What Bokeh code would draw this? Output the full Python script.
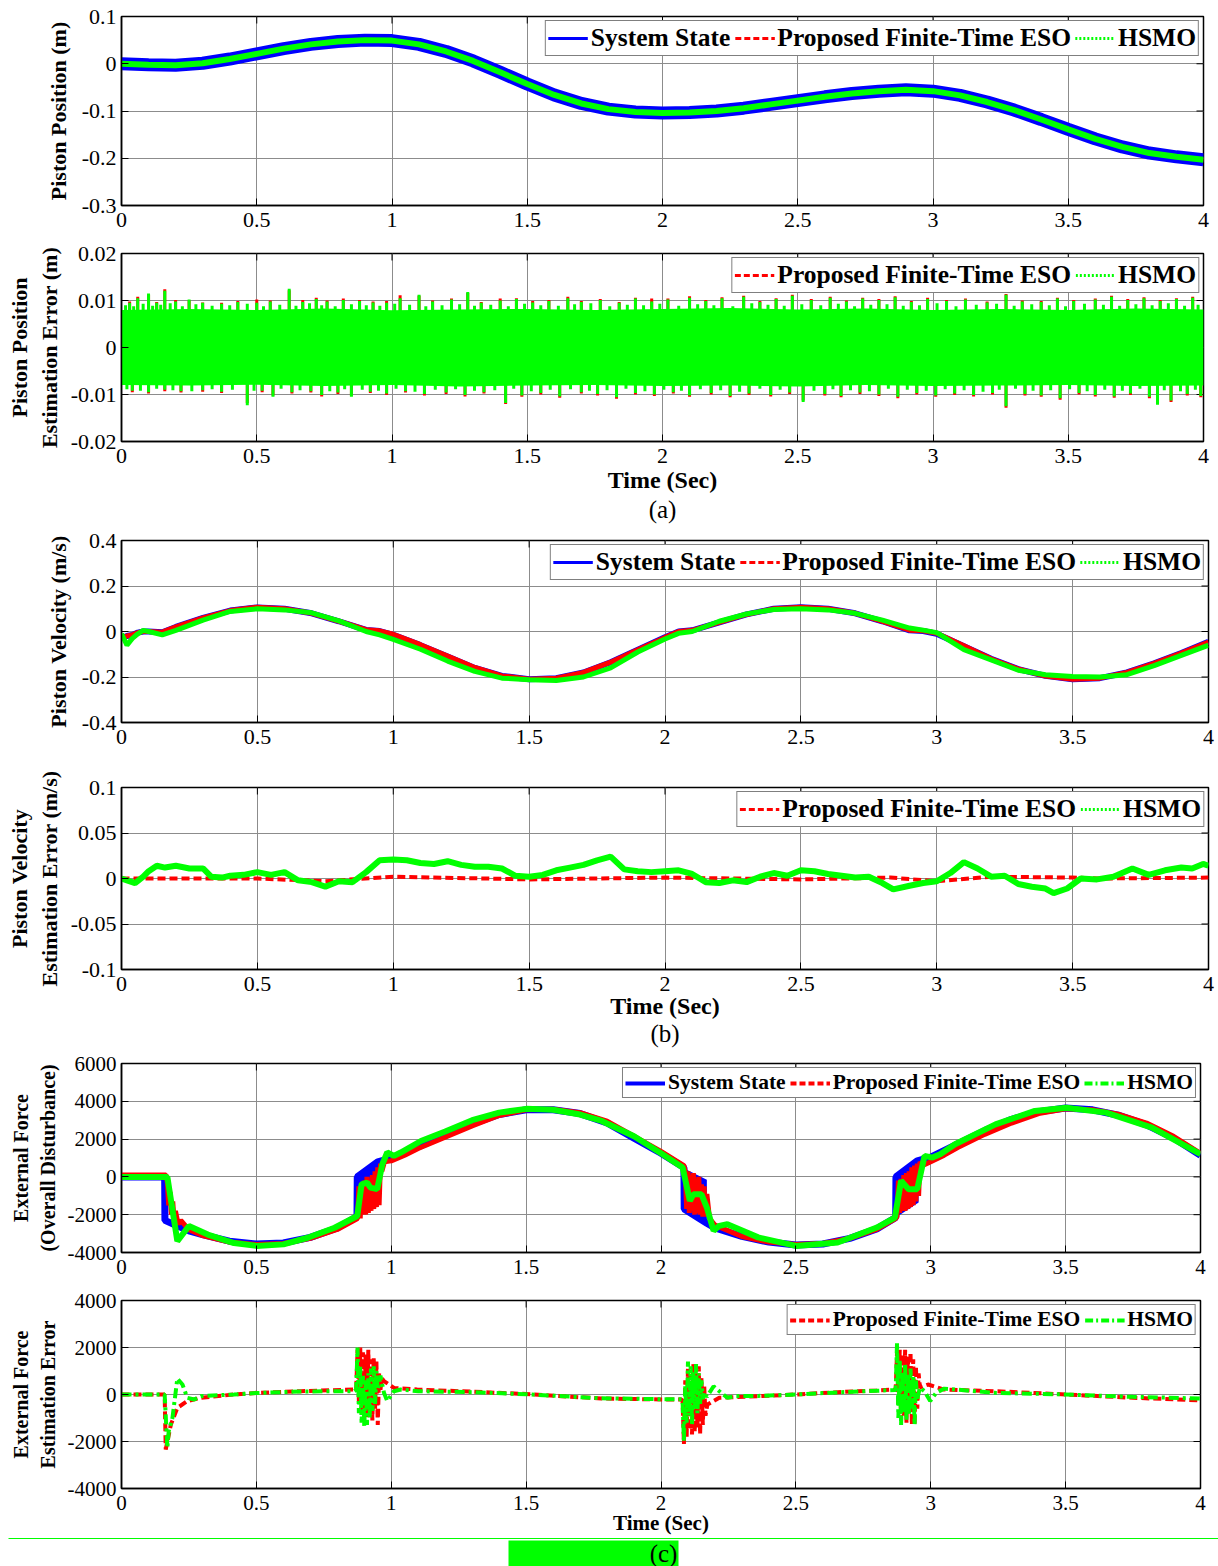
import math
from bokeh.plotting import figure
from bokeh.models import FixedTicker, Legend, LegendItem, Title, Range1d
from bokeh.embed import file_html
from bokeh.resources import INLINE
from bokeh.core.properties import value

FONT = "Liberation Serif"
BLUE, RED, GREEN = "#0000ff", "#ff0000", "#00ff00"

# ---------------- data ----------------
XTICKS = [0, 0.5, 1, 1.5, 2, 2.5, 3, 3.5, 4]
XLABELS = ["0", "0.5", "1", "1.5", "2", "2.5", "3", "3.5", "4"]

# (a) piston position
pos_t = [0, 0.1, 0.2, 0.3, 0.4, 0.5, 0.6, 0.7, 0.8, 0.9, 1.0, 1.1, 1.2, 1.3, 1.4, 1.5, 1.6, 1.7, 1.8, 1.9, 2.0,
         2.1, 2.2, 2.3, 2.4, 2.5, 2.6, 2.7, 2.8, 2.9, 3.0, 3.1, 3.2, 3.3, 3.4, 3.5, 3.6, 3.7, 3.8, 3.9, 4.0]
pos_state = [0.000, -0.002, -0.003, 0.001, 0.010, 0.021, 0.032, 0.041, 0.047, 0.050, 0.049, 0.041, 0.026, 0.006,
             -0.018, -0.043, -0.066, -0.084, -0.096, -0.102, -0.104, -0.103, -0.100, -0.094, -0.086, -0.078,
             -0.070, -0.063, -0.058, -0.055, -0.058, -0.067, -0.081, -0.098, -0.118, -0.139, -0.159, -0.176,
             -0.189, -0.197, -0.203]
pos_eso = [0.000, -0.002, -0.003, 0.001, 0.010, 0.021, 0.032, 0.041, 0.047, 0.050, 0.049, 0.041, 0.026, 0.006,
           -0.018, -0.043, -0.066, -0.084, -0.096, -0.102, -0.104, -0.103, -0.100, -0.094, -0.086, -0.078,
           -0.070, -0.063, -0.058, -0.055, -0.058, -0.067, -0.081, -0.098, -0.118, -0.139, -0.159, -0.176,
           -0.189, -0.197, -0.203]
pos_hsmo = [0.000, -0.002, -0.003, 0.001, 0.010, 0.021, 0.032, 0.041, 0.047, 0.050, 0.049, 0.041, 0.026, 0.006,
            -0.018, -0.043, -0.066, -0.084, -0.096, -0.102, -0.104, -0.103, -0.100, -0.094, -0.086, -0.078,
            -0.070, -0.063, -0.058, -0.055, -0.058, -0.067, -0.081, -0.098, -0.118, -0.139, -0.159, -0.176,
            -0.189, -0.197, -0.203]

# position estimation error: dense band envelope + peaks
perr_env_t = [0, 0.25, 0.5, 0.75, 1.0, 1.25, 1.5, 1.75, 2.0, 2.25, 2.5, 2.75, 3.0, 3.25, 3.5, 3.75, 4.0]
perr_env_hi = [0.0080, 0.0082, 0.0080, 0.0083, 0.0079, 0.0081, 0.0082, 0.0080, 0.0082, 0.0084, 0.0081, 0.0083,
               0.0080, 0.0082, 0.0080, 0.0083, 0.0081]
perr_env_lo = [-0.0080, -0.0081, -0.0079, -0.0082, -0.0080, -0.0083, -0.0081, -0.0080, -0.0082, -0.0081,
               -0.0083, -0.0080, -0.0082, -0.0081, -0.0080, -0.0082, -0.0081]
perr_up_t = [0.03, 0.06, 0.10, 0.13, 0.16, 0.20, 0.25, 0.30, 0.37, 0.43, 0.50, 0.55, 0.62, 0.67, 0.72, 0.76, 0.82,
             0.88, 0.93, 0.98, 1.03, 1.10, 1.15, 1.22, 1.28, 1.33, 1.40, 1.46, 1.52, 1.58, 1.65, 1.70, 1.77, 1.84,
             1.90, 1.96, 2.02, 2.10, 2.16, 2.22, 2.30, 2.36, 2.42, 2.48, 2.55, 2.62, 2.68, 2.74, 2.80, 2.86, 2.92,
             2.98, 3.05, 3.12, 3.20, 3.27, 3.33, 3.40, 3.46, 3.52, 3.60, 3.66, 3.72, 3.78, 3.84, 3.90, 3.96]
perr_up_eso = [0.0098, 0.0108, 0.0113, 0.0097, 0.0124, 0.0101, 0.0100, 0.0096, 0.0095, 0.0099, 0.0102, 0.0100,
               0.0122, 0.0101, 0.0106, 0.0100, 0.0104, 0.0101, 0.0098, 0.0099, 0.0111, 0.0110, 0.0100, 0.0104,
               0.0116, 0.0097, 0.0104, 0.0105, 0.0099, 0.0101, 0.0108, 0.0099, 0.0103, 0.0097, 0.0106, 0.0104,
               0.0104, 0.0109, 0.0101, 0.0107, 0.0110, 0.0099, 0.0105, 0.0112, 0.0103, 0.0108, 0.0100, 0.0106,
               0.0103, 0.0109, 0.0099, 0.0106, 0.0101, 0.0104, 0.0098, 0.0114, 0.0100, 0.0099, 0.0106, 0.0101,
               0.0104, 0.0110, 0.0103, 0.0107, 0.0101, 0.0105, 0.0108]
perr_up_hsmo = [0.0095, 0.0105, 0.0115, 0.0095, 0.0121, 0.0098, 0.0102, 0.0095, 0.0093, 0.0097, 0.0095, 0.0098,
                0.0125, 0.0097, 0.0103, 0.0098, 0.0101, 0.0099, 0.0096, 0.0095, 0.0105, 0.0112, 0.0098, 0.0102,
                0.0118, 0.0095, 0.0100, 0.0103, 0.0096, 0.0099, 0.0105, 0.0097, 0.0101, 0.0095, 0.0104, 0.0098,
                0.0102, 0.0106, 0.0099, 0.0105, 0.0108, 0.0097, 0.0103, 0.0110, 0.0101, 0.0106, 0.0098, 0.0104,
                0.0101, 0.0107, 0.0097, 0.0103, 0.0099, 0.0102, 0.0096, 0.0112, 0.0098, 0.0097, 0.0104, 0.0099,
                0.0102, 0.0108, 0.0101, 0.0105, 0.0099, 0.0103, 0.0106]
perr_dn_t = [0.04, 0.10, 0.16, 0.22, 0.30, 0.37, 0.465, 0.52, 0.56, 0.63, 0.70, 0.74, 0.80, 0.85, 0.92, 0.98, 1.05,
             1.12, 1.20, 1.27, 1.34, 1.42, 1.48, 1.55, 1.62, 1.70, 1.76, 1.83, 1.90, 1.97, 2.04, 2.10, 2.18, 2.25,
             2.32, 2.40, 2.47, 2.52, 2.60, 2.66, 2.73, 2.80, 2.87, 2.94, 3.01, 3.08, 3.15, 3.22, 3.27, 3.34, 3.40,
             3.47, 3.54, 3.60, 3.67, 3.73, 3.80, 3.83, 3.88, 3.94, 3.99]
perr_dn_eso = [-0.0095, -0.0098, -0.0093, -0.0096, -0.0094, -0.0097, -0.0118, -0.0095, -0.0102, -0.0098, -0.0096,
               -0.0104, -0.0099, -0.0102, -0.0097, -0.0101, -0.0096, -0.0102, -0.0099, -0.0104, -0.0098, -0.0120,
               -0.0105, -0.0100, -0.0107, -0.0098, -0.0102, -0.0109, -0.0100, -0.0103, -0.0098, -0.0105, -0.0100,
               -0.0106, -0.0101, -0.0104, -0.0099, -0.0113, -0.0102, -0.0106, -0.0099, -0.0103, -0.0108, -0.0100,
               -0.0105, -0.0101, -0.0104, -0.0100, -0.0128, -0.0102, -0.0105, -0.0111, -0.0100, -0.0104, -0.0107,
               -0.0101, -0.0108, -0.0119, -0.0116, -0.0102, -0.0106]
perr_dn_hsmo = [-0.0092, -0.0095, -0.0090, -0.0093, -0.0091, -0.0094, -0.0123, -0.0092, -0.0105, -0.0095, -0.0093,
                -0.0101, -0.0096, -0.0105, -0.0094, -0.0098, -0.0093, -0.0099, -0.0096, -0.0101, -0.0095, -0.0118,
                -0.0102, -0.0097, -0.0104, -0.0095, -0.0099, -0.0106, -0.0097, -0.0100, -0.0095, -0.0102, -0.0097,
                -0.0103, -0.0098, -0.0101, -0.0096, -0.0116, -0.0099, -0.0103, -0.0096, -0.0100, -0.0105, -0.0097,
                -0.0102, -0.0098, -0.0101, -0.0097, -0.0125, -0.0099, -0.0102, -0.0108, -0.0097, -0.0101, -0.0104,
                -0.0098, -0.0105, -0.0122, -0.0113, -0.0099, -0.0103]
# smaller peaks in between (ragged band edge)
perr_up2_t = [0.015, 0.045, 0.08, 0.115, 0.145, 0.18, 0.225, 0.275, 0.335, 0.4, 0.465, 0.525, 0.585, 0.645, 0.695,
              0.74, 0.79, 0.85, 0.905, 0.955, 1.01, 1.065, 1.125, 1.185, 1.25, 1.305, 1.365, 1.43, 1.49, 1.55,
              1.615, 1.675, 1.735, 1.805, 1.87, 1.93, 1.99, 2.06, 2.13, 2.19, 2.26, 2.33, 2.39, 2.45, 2.515, 2.585,
              2.65, 2.71, 2.77, 2.83, 2.89, 2.95, 3.015, 3.085, 3.16, 3.235, 3.3, 3.365, 3.43, 3.49, 3.56, 3.63,
              3.69, 3.75, 3.81, 3.87, 3.93, 3.98]
perr_up2 = [0.0090, 0.0088, 0.0093, 0.0089, 0.0091, 0.0094, 0.0088, 0.0092, 0.0089, 0.0090, 0.0093, 0.0088,
            0.0091, 0.0089, 0.0094, 0.0090, 0.0088, 0.0092, 0.0090, 0.0089, 0.0093, 0.0091, 0.0088, 0.0090,
            0.0092, 0.0089, 0.0091, 0.0088, 0.0093, 0.0090, 0.0089, 0.0092, 0.0094, 0.0088, 0.0091, 0.0090,
            0.0093, 0.0089, 0.0092, 0.0090, 0.0088, 0.0094, 0.0091, 0.0089, 0.0092, 0.0090, 0.0093, 0.0088,
            0.0091, 0.0092, 0.0089, 0.0090, 0.0094, 0.0088, 0.0091, 0.0093, 0.0089, 0.0092, 0.0090, 0.0088,
            0.0093, 0.0091, 0.0089, 0.0092, 0.0090, 0.0094, 0.0089, 0.0091]
perr_dn2_t = [0.02, 0.07, 0.13, 0.19, 0.26, 0.335, 0.41, 0.49, 0.59, 0.66, 0.77, 0.825, 0.89, 0.95, 1.015, 1.085,
              1.16, 1.235, 1.305, 1.38, 1.45, 1.515, 1.585, 1.66, 1.73, 1.795, 1.865, 1.935, 2.005, 2.07, 2.14,
              2.215, 2.285, 2.36, 2.435, 2.56, 2.63, 2.695, 2.765, 2.835, 2.905, 2.975, 3.045, 3.115, 3.185, 3.245,
              3.305, 3.37, 3.435, 3.505, 3.57, 3.635, 3.7, 3.765, 3.855, 3.915, 3.97]
perr_dn2 = [-0.0089, -0.0092, -0.0088, -0.0091, -0.0093, -0.0089, -0.0090, -0.0092, -0.0088, -0.0091, -0.0093,
            -0.0089, -0.0090, -0.0092, -0.0088, -0.0094, -0.0090, -0.0089, -0.0092, -0.0091, -0.0088, -0.0093,
            -0.0090, -0.0089, -0.0092, -0.0091, -0.0088, -0.0093, -0.0090, -0.0092, -0.0089, -0.0091, -0.0094,
            -0.0088, -0.0090, -0.0092, -0.0089, -0.0091, -0.0093, -0.0088, -0.0090, -0.0092, -0.0089, -0.0091,
            -0.0094, -0.0090, -0.0088, -0.0092, -0.0091, -0.0089, -0.0093, -0.0090, -0.0092, -0.0088, -0.0091,
            -0.0093, -0.0090]

# (b) piston velocity
vel_t = [0, 0.02, 0.04, 0.06, 0.08, 0.1, 0.15, 0.2, 0.3, 0.4, 0.5, 0.6, 0.7, 0.8, 0.9, 0.95, 1.0, 1.1, 1.2, 1.3,
         1.4, 1.5, 1.6, 1.7, 1.8, 1.9, 2.0, 2.05, 2.1, 2.2, 2.3, 2.4, 2.5, 2.6, 2.7, 2.8, 2.9, 2.95, 3.0, 3.1,
         3.2, 3.3, 3.4, 3.5, 3.6, 3.7, 3.8, 3.9, 4.0]
vel_state = [-0.03, -0.02, -0.015, -0.005, 0.0, 0.0, -0.003, 0.02, 0.06, 0.092, 0.106, 0.1, 0.08, 0.045, 0.007,
             0.002, -0.015, -0.06, -0.11, -0.16, -0.195, -0.21, -0.205, -0.18, -0.135, -0.08, -0.025, 0.0, 0.005,
             0.04, 0.075, 0.1, 0.107, 0.1, 0.08, 0.045, 0.005, 0.002, -0.01, -0.065, -0.12, -0.165, -0.195, -0.21,
             -0.205, -0.18, -0.14, -0.095, -0.045]
vel_eso = [-0.03, -0.02, -0.015, -0.005, 0.0, 0.0, -0.003, 0.02, 0.06, 0.092, 0.107, 0.1, 0.08, 0.045, 0.008,
           0.003, -0.012, -0.058, -0.108, -0.158, -0.195, -0.21, -0.205, -0.18, -0.135, -0.08, -0.026, 0.0, 0.005,
           0.04, 0.075, 0.1, 0.107, 0.1, 0.08, 0.045, 0.006, 0.003, -0.008, -0.063, -0.12, -0.165, -0.196, -0.21,
           -0.205, -0.18, -0.14, -0.095, -0.046]
vel_hsmo = [-0.01, -0.06, -0.03, -0.01, 0.005, 0.0, -0.015, 0.005, 0.05, 0.088, 0.1, 0.095, 0.082, 0.047, 0.0,
            -0.015, -0.035, -0.078, -0.13, -0.175, -0.205, -0.212, -0.215, -0.2, -0.16, -0.09, -0.033, -0.008,
            0.0, 0.045, 0.077, 0.097, 0.1, 0.095, 0.08, 0.05, 0.015, 0.006, -0.005, -0.08, -0.125, -0.17, -0.19,
            -0.198, -0.2, -0.19, -0.15, -0.105, -0.06]

verr_eso_t = [0, 0.5, 0.75, 1.0, 1.5, 2.0, 2.5, 2.83, 3.0, 3.2, 3.5, 3.6, 4.0]
verr_eso = [0.0, 0.0, -0.003, 0.002, -0.001, 0.001, -0.001, 0.001, -0.003, 0.002, 0.001, 0.0, 0.001]
verr_hsmo_t = [0, 0.02, 0.05, 0.08, 0.1, 0.13, 0.16, 0.2, 0.25, 0.3, 0.33, 0.37, 0.4, 0.45, 0.5, 0.55, 0.6, 0.65,
               0.7, 0.75, 0.8, 0.85, 0.9, 0.95, 1.0, 1.05, 1.1, 1.15, 1.2, 1.25, 1.3, 1.35, 1.4, 1.45, 1.5, 1.55,
               1.6, 1.65, 1.7, 1.75, 1.8, 1.85, 1.9, 1.95, 2.0, 2.05, 2.1, 2.15, 2.2, 2.25, 2.3, 2.35, 2.4, 2.45,
               2.5, 2.55, 2.6, 2.65, 2.7, 2.75, 2.8, 2.84, 2.9, 2.95, 3.0, 3.05, 3.1, 3.15, 3.2, 3.25, 3.3, 3.35,
               3.4, 3.43, 3.48, 3.53, 3.59, 3.65, 3.72, 3.78, 3.84, 3.9, 3.94, 3.98, 4.0]
verr_hsmo = [0.0, -0.002, -0.005, 0.002, 0.008, 0.014, 0.012, 0.014, 0.011, 0.011, 0.002, 0.001, 0.003, 0.004,
             0.007, 0.004, 0.007, -0.002, -0.004, -0.009, -0.003, -0.004, 0.007, 0.020, 0.021, 0.020, 0.017,
             0.016, 0.019, 0.015, 0.013, 0.013, 0.011, 0.003, 0.002, 0.004, 0.009, 0.012, 0.015, 0.020, 0.024,
             0.010, 0.008, 0.007, 0.008, 0.009, 0.005, -0.004, -0.005, -0.002, -0.004, 0.002, 0.006, 0.003, 0.009,
             0.008, 0.005, 0.003, 0.001, 0.002, -0.005, -0.012, -0.008, -0.005, -0.003, 0.006, 0.018, 0.011,
             0.002, 0.003, -0.006, -0.009, -0.011, -0.016, -0.011, 0.0, -0.001, 0.002, 0.011, 0.004, 0.009, 0.012,
             0.011, 0.016, 0.014]

# (c) external force
f_state_t = [0, 0.16, 0.161, 0.2, 0.25, 0.3, 0.4, 0.5, 0.6, 0.7, 0.8, 0.873, 0.874, 0.95, 1.0, 1.1, 1.2, 1.3, 1.4,
             1.5, 1.6, 1.7, 1.8, 1.9, 2.0, 2.085, 2.086, 2.17, 2.2, 2.3, 2.4, 2.5, 2.6, 2.7, 2.8, 2.87, 2.871, 2.95,
             3.0, 3.1, 3.2, 3.3, 3.4, 3.5, 3.6, 3.7, 3.8, 3.9, 4.0]
f_state = [0, 0, -2300, -2550, -2850, -3050, -3400, -3550, -3500, -3200, -2700, -2100, 0, 800, 1000, 1600, 2200,
           2800, 3300, 3550, 3550, 3350, 2850, 2050, 1250, 500, -1700, -2450, -2700, -3150, -3450, -3600, -3550,
           -3250, -2750, -2150, 0, 850, 1050, 1750, 2450, 3050, 3450, 3650, 3550, 3250, 2750, 2050, 1150]
f_band_t1 = [0.873, 0.955]
f_band_lo1 = [-2100, -1450]
f_band_hi1 = [0, 800]
f_band_t2 = [2.086, 2.17]
f_band_lo2 = [-1700, -2450]
f_band_hi2 = [450, -150]
f_band_t3 = [2.871, 2.955]
f_band_lo3 = [-2150, -1350]
f_band_hi3 = [0, 850]

f_eso_t = [0, 0.165, 0.17, 0.175, 0.18, 0.185, 0.19, 0.195, 0.2, 0.21, 0.22, 0.25, 0.3, 0.4, 0.5, 0.6, 0.7, 0.8,
           0.875, 0.88, 0.885, 0.89, 0.895, 0.9, 0.905, 0.91, 0.915, 0.92, 0.925, 0.93, 0.935, 0.94, 0.945, 0.95,
           0.955, 0.96, 0.965, 0.975, 1.0, 1.05, 1.1, 1.2, 1.3, 1.4, 1.5, 1.6, 1.7, 1.8, 1.9, 2.0, 2.085, 2.09,
           2.095, 2.1, 2.105, 2.11, 2.115, 2.12, 2.125, 2.13, 2.135, 2.14, 2.145, 2.15, 2.155, 2.16, 2.165, 2.17,
           2.18, 2.2, 2.3, 2.4, 2.5, 2.6, 2.7, 2.8, 2.87, 2.875, 2.88, 2.885, 2.89, 2.895, 2.9, 2.905, 2.91,
           2.915, 2.92, 2.925, 2.93, 2.935, 2.94, 2.945, 2.95, 2.955, 2.96, 2.97, 3.0, 3.05, 3.1, 3.2, 3.3, 3.4,
           3.5, 3.6, 3.7, 3.8, 3.9, 4.0]
f_eso = [100, 100, -300, -1500, -800, -2000, -1300, -2300, -1800, -2500, -2300, -2800, -3100, -3450, -3580, -3520,
         -3250, -2780, -2200, -500, -2200, -300, -2000, -200, -2000, 0, -1900, -200, -1800, 100, -1700, 300, -1600,
         500, -1500, 700, 300, 800, 850, 1150, 1500, 2100, 2700, 3250, 3550, 3580, 3400, 2950, 2150, 1350, 600,
         300, -1700, 300, -1900, 100, -1800, 200, -2000, -100, -1900, 0, -2000, -400, -2100, -500, -2100, -900,
         -2200, -2550, -3150, -3450, -3580, -3520, -3250, -2780, -2200, -2100, -200, -1900, -100, -1800, 100,
         -1800, 200, -1700, 300, -1600, 500, -1500, 600, -1300, 700, -1000, 800, 600, 800, 1150, 1550, 2250,
         2850, 3350, 3600, 3550, 3300, 2850, 2150, 1250]
f_hsmo_t = [0, 0.17, 0.207, 0.25, 0.32, 0.417, 0.5, 0.6, 0.69, 0.79, 0.874, 0.89, 0.91, 0.923, 0.948, 0.967,
            0.985, 1.01, 1.035, 1.11, 1.2, 1.3, 1.4, 1.5, 1.6, 1.7, 1.78, 1.9, 2.0, 2.08, 2.107, 2.12, 2.15, 2.17,
            2.195, 2.216, 2.246, 2.36, 2.5, 2.655, 2.8, 2.867, 2.89, 2.918, 2.95, 2.977, 3.006, 3.035, 3.09,
            3.24, 3.386, 3.503, 3.65, 3.82, 4.0]
f_hsmo = [0, 0, -3400, -2600, -3050, -3500, -3650, -3570, -3220, -2690, -2070, -390, -300, -570, -650, 670, 1290,
          1110, 1290, 1900, 2400, 3000, 3400, 3600, 3550, 3300, 2960, 2150, 1250, 500, -1270, -920, -920, -1620,
          -2850, -2590, -2500, -3200, -3650, -3470, -2680, -2150, -210, -650, -650, 1110, 1020, 1200, 1730,
          2780, 3490, 3660, 3400, 2610, 1200]

ferr_eso_t = [0, 0.16, 0.164, 0.172, 0.183, 0.207, 0.244, 0.294, 0.417, 0.5, 0.664, 0.862, 0.87, 0.875, 0.88,
              0.885, 0.89, 0.895, 0.9, 0.905, 0.91, 0.915, 0.92, 0.925, 0.93, 0.935, 0.94, 0.945, 0.95, 0.955,
              0.96, 0.965, 0.973, 1.01, 1.096, 1.3, 1.5, 1.778, 2.0, 2.077, 2.08, 2.085, 2.09, 2.095, 2.1, 2.105,
              2.11, 2.115, 2.12, 2.125, 2.13, 2.135, 2.14, 2.145, 2.15, 2.155, 2.16, 2.165, 2.172, 2.216, 2.36,
              2.5, 2.655, 2.8, 2.867, 2.87, 2.875, 2.88, 2.885, 2.89, 2.895, 2.9, 2.905, 2.91, 2.915, 2.92, 2.925,
              2.93, 2.935, 2.94, 2.945, 2.95, 2.955, 2.96, 2.99, 3.05, 3.24, 3.5, 3.75, 4.0]
ferr_eso = [0, 0, -2340, -1900, -1280, -570, -280, -140, 0, 70, 140, 210, 200, 1900, -300, 2000, -700, 1800, -900,
            1700, -1000, 1900, -800, 1500, -1100, 1600, -600, 1400, -1300, 900, 200, 700, 570, 280, 210, 120, 20,
            -170, -210, -210, -300, -2100, 600, -1800, 1100, -1500, 800, -1700, 1300, -1600, 900, -1400, 1200,
            -1700, 700, -1300, 400, -900, -425, -140, -70, 0, 100, 170, 210, 200, 1800, -500, 1900, -1100, 1700,
            -900, 1900, -1200, 1600, -800, 1800, -1300, 1500, -1300, 1200, -600, 900, 300, 425, 210, 140, 0, -140,
            -250]
ferr_hsmo_t = [0, 0.16, 0.17, 0.175, 0.189, 0.207, 0.226, 0.244, 0.27, 0.294, 0.417, 0.5, 0.664, 0.862, 0.87,
               0.875, 0.88, 0.885, 0.89, 0.895, 0.9, 0.905, 0.91, 0.915, 0.92, 0.925, 0.93, 0.935, 0.94, 0.945,
               0.95, 0.96, 0.973, 0.985, 1.01, 1.035, 1.1, 1.3, 1.5, 1.778, 2.0, 2.077, 2.08, 2.085, 2.09, 2.095,
               2.1, 2.105, 2.11, 2.115, 2.12, 2.125, 2.13, 2.135, 2.14, 2.145, 2.15, 2.155, 2.16, 2.17, 2.195,
               2.216, 2.246, 2.275, 2.36, 2.5, 2.655, 2.8, 2.867, 2.87, 2.875, 2.88, 2.885, 2.89, 2.895, 2.9,
               2.905, 2.91, 2.915, 2.92, 2.925, 2.93, 2.935, 2.94, 2.945, 2.95, 2.96, 2.977, 2.998, 3.02, 3.05,
               3.24, 3.5, 3.75, 4.0]
ferr_hsmo = [0, 0, -2270, -1560, -990, 680, 425, -140, -210, -70, 0, 60, 130, 140, 200, 2000, -800, 1200, -1200,
             800, -1400, 600, -1300, 900, -1000, 1100, -700, 1200, -400, 1000, 200, 800, 70, -280, 140, 210, 140,
             100, 10, -160, -200, -200, -300, -2000, 400, -1200, 1400, -900, 1200, -1300, 1000, -600, 1300, -800,
             900, -400, 600, -200, 100, -100, 350, 140, -140, -70, -60, 0, 90, 160, 190, 200, 2200, -1000, 1500,
             -1300, 1000, -800, 1300, -1100, 900, -900, 1100, -600, 800, -1300, 600, -200, 300, 140, -280, 70,
             250, 70, 0, -100, -170]


# ---------------- helpers ----------------
def make_fig(h, bt, bb, br, yr, yticks, ylabels, ylab, tick_fs="22px", lab_fs="22px", lab_standoff=8):
    p = figure(width=1218, height=h, x_range=Range1d(0, 4), y_range=Range1d(*yr),
               output_backend="svg", toolbar_location=None,
               min_border_left=121, min_border_right=br, min_border_top=bt, min_border_bottom=bb)
    p.outline_line_color = "black"
    p.outline_line_width = 1.5
    p.border_fill_color = "white"
    xa, ya = p.below[0], p.left[0]
    xa.ticker = FixedTicker(ticks=XTICKS)
    xa.major_label_overrides = dict(zip(XTICKS, XLABELS))
    ya.ticker = FixedTicker(ticks=yticks)
    ya.major_label_overrides = dict(zip(yticks, ylabels))
    for ax in (xa, ya):
        ax.major_tick_in = 7
        ax.major_tick_out = 0
        ax.minor_tick_line_color = None
        ax.major_label_text_font = FONT
        ax.major_label_text_font_size = tick_fs
        ax.major_label_text_color = "black"
        ax.axis_line_width = 1.5
        ax.axis_label_text_font = FONT
        ax.axis_label_text_font_style = "bold"
        ax.axis_label_text_font_size = lab_fs
        ax.axis_label_text_color = "black"
    xa.major_label_standoff = 7
    ya.major_label_standoff = 5
    ya.axis_label = ylab
    ya.axis_label_standoff = lab_standoff
    p.xgrid.ticker = FixedTicker(ticks=XTICKS)
    p.ygrid.ticker = FixedTicker(ticks=yticks)
    for g in (p.xgrid[0], p.ygrid[0]):
        g.grid_line_color = "#8c8c8c"
        g.grid_line_width = 1
    # mirrored inward ticks on the top and right edges (half of each dash is clipped by the frame)
    p.scatter(x=XTICKS, y=[yr[1]] * len(XTICKS), marker="dash", angle=math.pi / 2, size=14,
              line_color="black", line_width=1)
    p.scatter(x=[4] * len(yticks), y=yticks, marker="dash", size=14, line_color="black", line_width=1)
    return p


def add_legend(p, entries, fs="25.5px"):
    items = []
    for label, color, dash, lw in entries:
        r = p.line([-2, -1], [0, 0], line_color=color, line_dash=dash, line_width=lw)
        items.append(LegendItem(label=label, renderers=[r]))
    leg = Legend(items=items, orientation="horizontal", location="top_right",
                 label_text_font=FONT, label_text_font_style="bold", label_text_font_size=fs,
                 label_text_color="black", glyph_width=40, glyph_height=18, label_standoff=3, spacing=4,
                 padding=2, margin=4, border_line_color="black", border_line_width=1.5,
                 background_fill_alpha=1.0)
    p.add_layout(leg)


def add_xlabel(p, text, fs, standoff):
    ax = p.below[0]
    ax.axis_label = text
    ax.axis_label_text_font_size = fs
    ax.axis_label_standoff = standoff


def add_sub(p, text, standoff):
    t = Title(text=text, align="center", text_font=FONT, text_font_size="25px", text_font_style="normal",
              text_color="black")
    try:
        t.standoff = standoff
    except Exception:
        t.standoff = 0
    p.add_layout(t, "below")


LEG3 = [("System State", BLUE, "solid", 3), ("Proposed Finite-Time ESO", RED, "6 3", 3),
        ("HSMO", GREEN, "2 2", 3)]
LEG2 = [("Proposed Finite-Time ESO", RED, "6 3", 3), ("HSMO", GREEN, "2 2", 3)]
LEG3c = [("System State", BLUE, "solid", 4), ("Proposed Finite-Time ESO", RED, "6 3", 4),
         ("HSMO", GREEN, "8 3 2 3", 4)]
LEG2c = [("Proposed Finite-Time ESO", RED, "6 3", 4), ("HSMO", GREEN, "8 3 2 3", 4)]

# ---------------- panel 1 ----------------
p1 = make_fig(236, 16, 31, 15, (-0.3, 0.1), [-0.3, -0.2, -0.1, 0, 0.1], ["-0.3", "-0.2", "-0.1", "0", "0.1"],
              "Piston Position (m)")
p1.line(pos_t, pos_state, line_color=BLUE, line_width=13)
p1.line(pos_t, pos_eso, line_color=RED, line_width=4)
p1.line(pos_t, pos_hsmo, line_color=GREEN, line_width=6)
add_legend(p1, LEG3)

# ---------------- panel 2 ----------------
p2 = make_fig(291, 17, 86, 15, (-0.02, 0.02), [-0.02, -0.01, 0, 0.01, 0.02],
              ["-0.02", "-0.01", "0", "0.01", "0.02"], "Piston Position\nEstimation Error (m)", lab_standoff=6)
p2.segment(x0=perr_up_t, y0=[0] * len(perr_up_t), x1=perr_up_t, y1=perr_up_eso, line_color=RED, line_width=3)
p2.segment(x0=perr_dn_t, y0=[0] * len(perr_dn_t), x1=perr_dn_t, y1=perr_dn_eso, line_color=RED, line_width=3)
p2.varea(x=perr_env_t, y1=perr_env_lo, y2=perr_env_hi, fill_color=GREEN)
p2.segment(x0=perr_up_t, y0=[0] * len(perr_up_t), x1=perr_up_t, y1=perr_up_hsmo, line_color=GREEN, line_width=3)
p2.segment(x0=perr_dn_t, y0=[0] * len(perr_dn_t), x1=perr_dn_t, y1=perr_dn_hsmo, line_color=GREEN, line_width=3)
p2.segment(x0=perr_up2_t, y0=[0] * len(perr_up2_t), x1=perr_up2_t, y1=perr_up2, line_color=GREEN, line_width=3)
p2.segment(x0=perr_dn2_t, y0=[0] * len(perr_dn2_t), x1=perr_dn2_t, y1=perr_dn2, line_color=GREEN, line_width=3)
add_legend(p2, LEG2)
add_xlabel(p2, "Time (Sec)", "24px", 1)
add_sub(p2, "(a)", -4)

# ---------------- panel 3 ----------------
p3 = make_fig(226, 13, 31, 10, (-0.4, 0.4), [-0.4, -0.2, 0, 0.2, 0.4], ["-0.4", "-0.2", "0", "0.2", "0.4"],
              "Piston Velocity (m/s)")
p3.line(vel_t, vel_state, line_color=BLUE, line_width=6)
p3.line(vel_t, vel_eso, line_color=RED, line_width=5)
p3.line(vel_t, vel_hsmo, line_color=GREEN, line_width=5)
add_legend(p3, LEG3)

# ---------------- panel 4 ----------------
p4 = make_fig(295, 34, 79, 10, (-0.1, 0.1), [-0.1, -0.05, 0, 0.05, 0.1], ["-0.1", "-0.05", "0", "0.05", "0.1"],
              "Piston Velocity\nEstimation Error (m/s)", lab_standoff=6)
p4.line(verr_eso_t, verr_eso, line_color=RED, line_width=4, line_dash="8 4")
p4.line(verr_hsmo_t, verr_hsmo, line_color=GREEN, line_width=6)
add_legend(p4, LEG2)
add_xlabel(p4, "Time (Sec)", "24px", -1)
add_sub(p4, "(b)", -8)

# ---------------- panel 5 ----------------
p5 = make_fig(235, 15, 31, 18, (-4000, 6000), [-4000, -2000, 0, 2000, 4000, 6000],
              ["-4000", "-2000", "0", "2000", "4000", "6000"], "External Force\n(Overall Disturbance)",
              tick_fs="21px", lab_fs="20px", lab_standoff=6)
p5.line(f_state_t, f_state, line_color=BLUE, line_width=7)
for bt_, lo_, hi_ in ((f_band_t1, f_band_lo1, f_band_hi1), (f_band_t2, f_band_lo2, f_band_hi2),
                      (f_band_t3, f_band_lo3, f_band_hi3)):
    p5.varea(x=bt_, y1=lo_, y2=hi_, fill_color=BLUE)
p5.line(f_eso_t, f_eso, line_color=RED, line_width=5)
p5.line(f_hsmo_t, f_hsmo, line_color=GREEN, line_width=6)
add_legend(p5, LEG3c, fs="21.5px")

# ---------------- panel 6 ----------------
p6 = make_fig(254, 17, 49, 18, (-4000, 4000), [-4000, -2000, 0, 2000, 4000],
              ["-4000", "-2000", "0", "2000", "4000"], "External Force\nEstimation Error",
              tick_fs="21px", lab_fs="20px", lab_standoff=6)
p6.line(ferr_eso_t, ferr_eso, line_color=RED, line_width=4, line_dash="8 4")
p6.line(ferr_hsmo_t, ferr_hsmo, line_color=GREEN, line_width=4, line_dash="10 4 3 4")
add_legend(p6, LEG2c, fs="21.5px")
add_xlabel(p6, "Time (Sec)", "21px", -2)

# ---------------- bottom strip (c) ----------------
p7 = figure(width=1218, height=29, x_range=Range1d(0, 1218), y_range=Range1d(0, 29), output_backend="svg",
            toolbar_location=None, x_axis_type=None, y_axis_type=None,
            min_border_left=0, min_border_right=0, min_border_top=0, min_border_bottom=0)
p7.outline_line_color = None
p7.grid.grid_line_color = None
p7.segment(x0=[8], y0=[28], x1=[1218], y1=[28], line_color=GREEN, line_width=1)
p7.quad(left=[508], right=[678], bottom=[0], top=[26], fill_color=GREEN, line_color=None)
p7.text(x=[663], y=[13], text=["(c)"], text_font=value(FONT), text_font_size="25px", text_align="center",
        text_baseline="middle", text_color="black")

html = file_html([p1, p2, p3, p4, p5, p6, p7], INLINE)
html = html.replace("<head>", "<head><style>html,body{margin:0;padding:0;}</style>", 1)
open("out.html", "w").write(html)
